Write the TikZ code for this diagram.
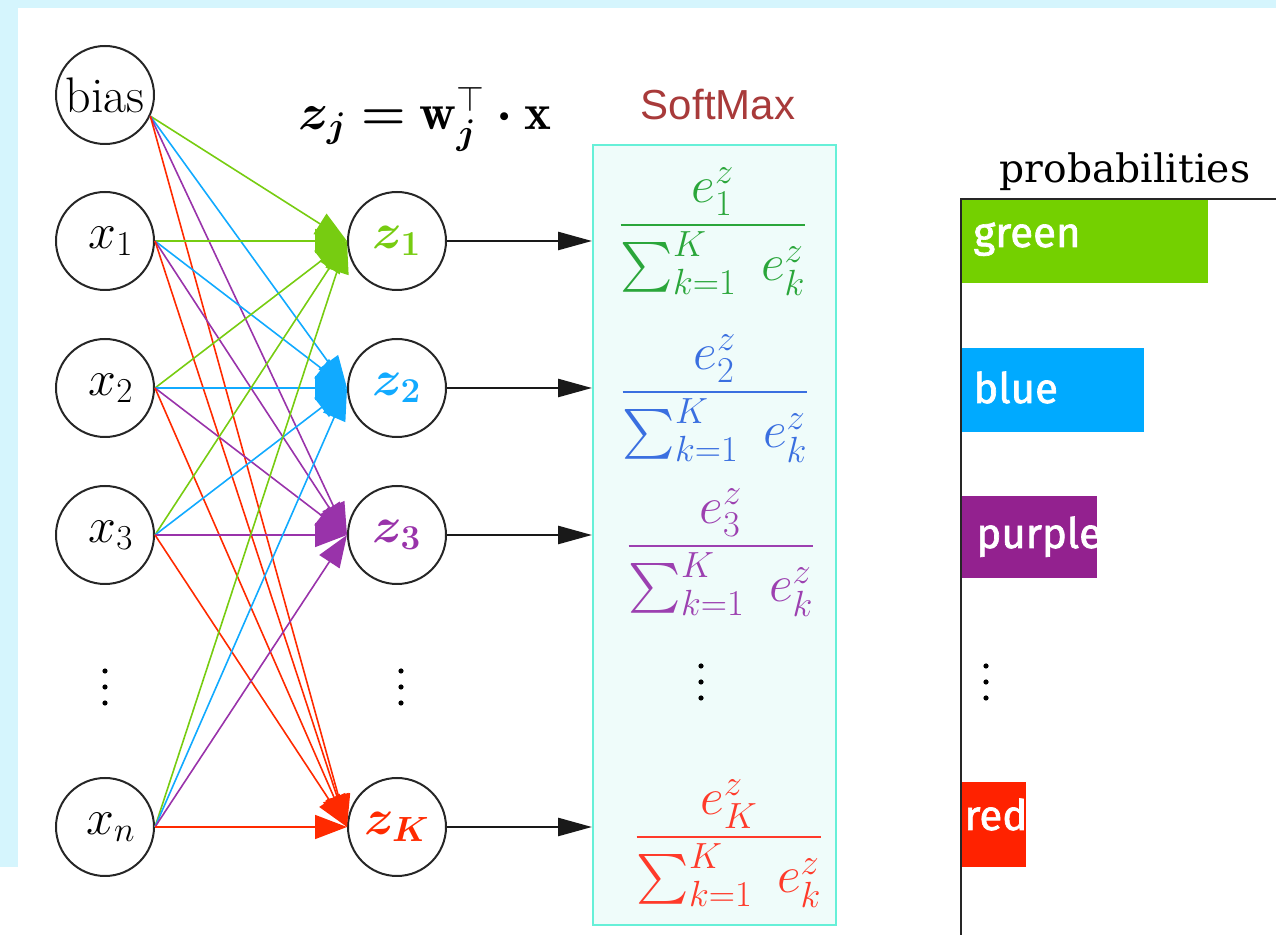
\RequirePackage{fix-cm}
\documentclass[tikz,border=0pt]{standalone}
\usepackage{amsmath,bm}
\usepackage{fontspec}
\usetikzlibrary{arrows.meta}
\newfontfamily\barfont[FakeBold=1.6]{Fira Sans}
\newfontfamily\slabfont{DejaVu Serif}
\newfontfamily\smfont{Liberation Sans}
\definecolor{bgc}{HTML}{D5F5FD}
\definecolor{eG}{HTML}{77CC11}
\definecolor{eB}{HTML}{11AAFF}
\definecolor{eP}{HTML}{9933AA}
\definecolor{eR}{HTML}{FF2A00}
\definecolor{fG}{HTML}{2AA63A}
\definecolor{fB}{HTML}{3A6FE0}
\definecolor{fP}{HTML}{9C40B0}
\definecolor{fR}{HTML}{FF3A2A}
\definecolor{bG}{HTML}{74D000}
\definecolor{bB}{HTML}{00AAFF}
\definecolor{bP}{HTML}{93218F}
\definecolor{bR}{HTML}{FF2200}
\definecolor{smred}{HTML}{A83A3A}
\definecolor{boxfill}{HTML}{EFFCFA}
\definecolor{boxdraw}{HTML}{66F0D8}
\tikzset{
  neuron/.style={circle, draw=black!85, line width=1pt, minimum size=49pt, inner sep=0pt,
    font=\fontsize{25}{30}\selectfont},
  conn/.style={line width=0.8pt, -{Triangle[length=16pt,width=12pt]}},
  blk/.style={draw=black!90, line width=1.3pt, -{Triangle[length=17pt,width=9pt]}},
  frac/.style={anchor=base, inner sep=0pt, font=\fontsize{26}{30}\selectfont},
  barlbl/.style={anchor=base west, inner sep=0pt, text=white, font=\barfont\fontsize{21}{24}\selectfont},
  vdot/.style={circle, fill=black, inner sep=0pt, minimum size=2.6pt}
}
\begin{document}
\begin{tikzpicture}[x=0.5pt,y=-0.5pt]
\useasboundingbox (0,0) rectangle (1276,951);
\fill[bgc] (0,0) rectangle (1276,8);
\fill[bgc] (0,0) rectangle (18,867);

% input layer
\node[neuron] (bias) at (105,95) {bias};
\node[neuron] (x1) at (105,241) {\hspace{6pt}$x_1$};
\node[neuron] (x2) at (105,388) {\hspace{6pt}$x_2$};
\node[neuron] (x3) at (105,535) {\hspace{6pt}$x_3$};
\node[neuron] (xn) at (105,827) {\hspace{6pt}$x_n$};
\foreach \yy in {671,687,703} \node[vdot] at (105,\yy) {};

% output layer
\node[neuron, text=eG] (z1) at (397,241) {$\bm{z_1}$};
\node[neuron, text=eB] (z2) at (397,388) {$\bm{z_2}$};
\node[neuron, text=eP] (z3) at (397,535) {$\bm{z_3}$};
\node[neuron, text=eR] (zK) at (397,827) {$\bm{z_K}$};
\foreach \yy in {671,687,703} \node[vdot] at (401,\yy) {};

% formula
\node[anchor=base, inner sep=0pt, font=\fontsize{25.5}{30}\selectfont] (formula) at (425,130)
  {$\bm{z_j} \bm{=} \mathbf{w}_{\bm{j}}^{\top} \bm{\cdot} \mathbf{x}$};

% connections
\coordinate (sb) at (bias.-25);
\foreach \s in {sb, x1.east, x2.east, x3.east, xn.east} {
  \draw[conn, eG] (\s) -- (z1.west);
  \draw[conn, eB] (\s) -- (z2.west);
  \draw[conn, eP] (\s) -- (z3.west);
  \draw[conn, eR] (\s) -- (zK.west);
}

% softmax box
\node[anchor=base, inner sep=0pt, text=smred, font=\smfont\fontsize{21}{24}\selectfont] (smlabel) at (718,120) {SoftMax};
\node[draw=boxdraw, fill=boxfill, line width=1pt, minimum width=121.5pt, minimum height=390pt, inner sep=0pt] (box) at (714.5,535) {};
\node[frac, text=fG] (f1) at (713,238) {$\displaystyle\frac{e^z_1}{\sum_{k=1}^{K}\ e^z_k}$};
\node[frac, text=fB] (f2) at (715,405) {$\displaystyle\frac{e^z_2}{\sum_{k=1}^{K}\ e^z_k}$};
\node[frac, text=fP] (f3) at (721,559) {$\displaystyle\frac{e^z_3}{\sum_{k=1}^{K}\ e^z_k}$};
\node[frac, text=fR] (fK) at (729,850) {$\displaystyle\frac{e^z_K}{\sum_{k=1}^{K}\ e^z_k}$};
\foreach \yy in {666,682,698} \node[vdot] at (701,\yy) {};

\draw[blk] (z1.east) -- (z1.east -| box.west);
\draw[blk] (z2.east) -- (z2.east -| box.west);
\draw[blk] (z3.east) -- (z3.east -| box.west);
\draw[blk] (zK.east) -- (zK.east -| box.west);

% probabilities chart
\node[anchor=base, inner sep=0pt, font=\slabfont\fontsize{19.6}{22}\selectfont] (plabel) at (1125,183) {probabilities};
\fill[bG] (961,200) rectangle (1208,283);
\fill[bB] (961,348) rectangle (1144,432);
\fill[bP] (961,496) rectangle (1097,578);
\fill[bR] (961,782) rectangle (1026,867);
\node[barlbl] (lg) at (973,247) {green};
\node[barlbl] (lb) at (973,403) {blue};
\node[barlbl] (lp) at (976,548) {purple};
\node[barlbl] (lr) at (964,830) {red};
\foreach \yy in {666,682,698} \node[vdot] at (986,\yy) {};
\draw[black!85, line width=1.2pt] (1276,199) -- (961,199) -- (961,935);
\end{tikzpicture}
\end{document}
